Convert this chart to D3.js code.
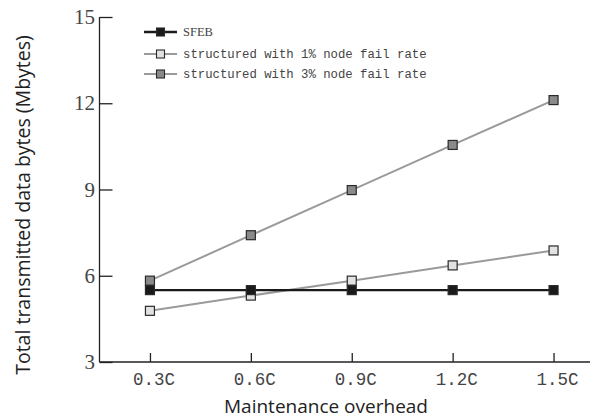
<!DOCTYPE html>
<html><head><meta charset="utf-8">
<script src="https://cdn.jsdelivr.net/npm/d3@7"></script>
<style>
html,body{margin:0;padding:0;background:#fff;}
svg{display:block;}
</style></head>
<body>
<svg id="chart" width="594" height="419"></svg>
<script>
const categories = ["0.3C", "0.6C", "0.9C", "1.2C", "1.5C"];
const sfeb = [5.5, 5.5, 5.5, 5.5, 5.5];
const fail1 = [4.78, 5.31, 5.83, 6.36, 6.88];
const fail3 = [5.83, 7.41, 8.98, 10.55, 12.11];
const yTicks = [3, 6, 9, 12, 15];
const seriesNames = ["SFEB", "structured with 1% node fail rate", "structured with 3% node fail rate"];

(function () {
const series = [
  {name: seriesNames[0], values: sfeb, line: "#1a1a1a", width: 2.4, fill: "#1a1a1a"},
  {name: seriesNames[1], values: fail1, line: "#9a9a9a", width: 2, fill: "#e2e2e2"},
  {name: seriesNames[2], values: fail3, line: "#9a9a9a", width: 2, fill: "#8a8a8a"}
];

const svg = d3.select("#chart");
const mLeft = 99.5, mRight = 604, mTop = 17, mBottom = 362;

const x = d3.scalePoint().domain(categories).range([mLeft, mRight]).padding(0.5);
const y = d3.scaleLinear().domain([3, 15]).range([mBottom, mTop]);

// axes
const yAxis = svg.append("g").attr("transform", `translate(${mLeft},0)`)
  .call(d3.axisRight(y).tickValues(yTicks).tickSize(13).tickFormat(""));
yAxis.select(".domain").attr("d", `M0,${mTop}V${mBottom}`);
const xAxis = svg.append("g").attr("transform", `translate(0,${mBottom})`)
  .call(d3.axisTop(x).tickSize(9).tickFormat(""));
xAxis.select(".domain").attr("d", `M${mLeft},0H590`);
svg.selectAll(".domain").attr("stroke", "#222").attr("stroke-width", 1.3);
svg.selectAll(".tick line").attr("stroke", "#222").attr("stroke-width", 1.3);

// tick labels
svg.append("g").selectAll("text").data(yTicks).join("text")
  .attr("x", 95).attr("y", d => y(d) + 7)
  .attr("text-anchor", "end")
  .attr("font-family", "Liberation Serif, serif").attr("font-size", 21)
  .attr("fill", "#444").text(d => d);
svg.append("g").selectAll("text").data(categories).join("text")
  .attr("x", d => x(d) + 4).attr("y", 385)
  .attr("text-anchor", "middle")
  .attr("font-family", "Liberation Mono, monospace").attr("font-size", 17.5)
  .attr("fill", "#444").text(d => d);

// axis titles
svg.append("text").attr("transform", "translate(30,205) rotate(-90)")
  .attr("text-anchor", "middle").attr("font-family", "Open Sans, sans-serif")
  .attr("font-size", 19.5).attr("fill", "#222")
  .text("Total transmitted data bytes  (Mbytes)");
svg.append("text").attr("x", 326).attr("y", 413)
  .attr("text-anchor", "middle").attr("font-family", "Open Sans, sans-serif")
  .attr("font-size", 19).attr("fill", "#222")
  .text("Maintenance overhead");

// lines and markers
const line = d3.line().x((d, i) => x(categories[i])).y(d => y(d));
const order = [series[1], series[2], series[0]];
order.forEach(s => {
  svg.append("path").datum(s.values).attr("d", line)
    .attr("fill", "none").attr("stroke", s.line).attr("stroke-width", s.width);
});
order.forEach(s => {
  svg.append("g").selectAll("rect").data(s.values).join("rect")
    .attr("x", (d, i) => x(categories[i]) - 4.5).attr("y", d => y(d) - 4.5)
    .attr("width", 9).attr("height", 9)
    .attr("fill", s.fill).attr("stroke", "#2a2a2a").attr("stroke-width", 1.2);
});

// legend
const legY = [32, 54, 74];
const lg = svg.append("g");
series.forEach((s, i) => {
  const gy = legY[i];
  lg.append("line").attr("x1", 144).attr("x2", 177).attr("y1", gy).attr("y2", gy)
    .attr("stroke", s.line).attr("stroke-width", s.width);
  lg.append("rect").attr("x", 160.5 - 4).attr("y", gy - 4).attr("width", 8).attr("height", 8)
    .attr("fill", s.fill).attr("stroke", "#2a2a2a").attr("stroke-width", 1.1);
  lg.append("text").attr("x", 183).attr("y", gy + 4)
    .attr("font-family", i === 0 ? "Liberation Serif, serif" : "Liberation Mono, monospace")
    .attr("font-size", i === 0 ? 12.5 : 12.3).attr("fill", "#444").text(s.name);
});
})();
</script>
</body></html>
